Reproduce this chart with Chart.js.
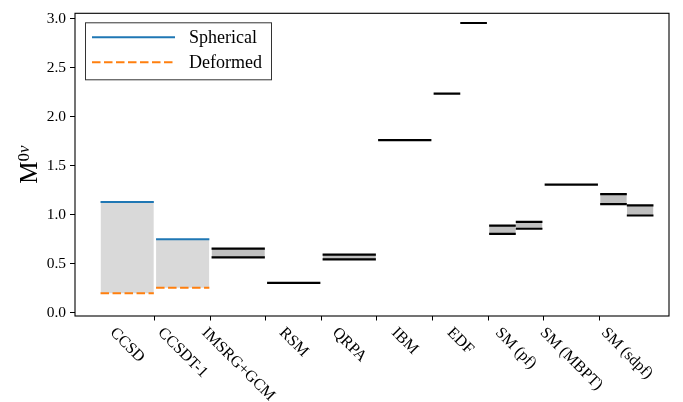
<!DOCTYPE html>
<html>
<head>
<meta charset="utf-8">
<script src="https://cdn.jsdelivr.net/npm/chart.js@4.4.1/dist/chart.umd.min.js"></script>
<style>
  html, body { margin: 0; padding: 0; background: #fff; }
  #wrap { width: 683px; height: 402px; }
</style>
</head>
<body>
<div id="wrap"><canvas id="c" width="683" height="402"></canvas></div>
<script>
// Nuclear matrix elements M^{0ν} by many-body method
const methods = ['CCSD', 'CCSDT-1', 'IMSRG+GCM', 'RSM', 'QRPA', 'IBM', 'EDF', 'SM (pf)', 'SM (MBPT)', 'SM (sdpf)'];
const yTicks = [0.0, 0.5, 1.0, 1.5, 2.0, 2.5, 3.0];

// coupled-cluster results: spherical vs deformed reference state
const ccMethod = [0, 1];
const ccSpherical = [1.13, 0.75];
const ccDeformed = [0.20, 0.255];

// other approaches: method index, slot (0 whole, 1 left half, 2 right half), range
const otherMethod = [2, 3, 4, 5, 6, 6, 7, 7, 8, 9, 9];
const otherSlot   = [0, 0, 0, 0, 1, 2, 1, 2, 0, 1, 2];
const otherLow    = [0.565, 0.305, 0.545, 1.76, 2.235, 2.955, 0.804, 0.857, 1.307, 1.107, 0.992];
const otherHigh   = [0.655, 0.305, 0.592, 1.76, 2.235, 2.955, 0.889, 0.927, 1.307, 1.21, 1.095];

const BLUE = '#1f77b4';
const ORANGE = '#ff7f0e';
const SERIF = '"Liberation Serif", "DejaVu Serif", serif';
const INSET = 0.02;

function span(m, slot) {
  if (slot === 1) return [m + INSET, m + 0.5];
  if (slot === 2) return [m + 0.5, m + 1 - INSET];
  return [m + INSET, m + 1 - INSET];
}
function segment(m, slot, v) {
  const [a, b] = span(m, slot);
  return [{ x: a, y: v }, { x: b, y: v }];
}

const base = { type: 'line', pointRadius: 0, pointHoverRadius: 0, borderWidth: 2, fill: false, tension: 0 };
const datasets = [];

ccMethod.forEach((m, i) => {
  datasets.push(Object.assign({}, base, {
    label: 'Spherical', data: segment(m, 0, ccSpherical[i]), borderColor: BLUE
  }));
  datasets.push(Object.assign({}, base, {
    label: 'Deformed', data: segment(m, 0, ccDeformed[i]), borderColor: ORANGE,
    borderDash: [8.5, 3.5], fill: '-1', backgroundColor: '#d9d9d9'
  }));
});

otherMethod.forEach((m, i) => {
  const slot = otherSlot[i];
  datasets.push(Object.assign({}, base, {
    label: methods[m], data: segment(m, slot, otherHigh[i]), borderColor: '#000', borderWidth: 2.2
  }));
  if (otherLow[i] !== otherHigh[i]) {
    datasets.push(Object.assign({}, base, {
      label: methods[m], data: segment(m, slot, otherLow[i]), borderColor: '#000', borderWidth: 2.2,
      fill: '-1', backgroundColor: '#bfbfbf'
    }));
  }
});

// frame around the plotting area
const framePlugin = {
  id: 'frame',
  afterDraw(chart) {
    const { ctx, chartArea: a } = chart;
    ctx.save();
    ctx.strokeStyle = '#000';
    ctx.lineWidth = 1.1;
    ctx.strokeRect(a.left, a.top, a.right - a.left, a.bottom - a.top);
    ctx.restore();
  }
};

// rotated method names centred under each column
const methodLabels = {
  id: 'methodLabels',
  afterDraw(chart) {
    const { ctx, chartArea: a } = chart;
    const xs = chart.scales.x;
    ctx.save();
    ctx.font = '16px ' + SERIF;
    ctx.fillStyle = '#000';
    ctx.textAlign = 'center';
    ctx.textBaseline = 'middle';
    methods.forEach((name, i) => {
      const cx = xs.getPixelForValue(i + 0.5);
      const w = ctx.measureText(name).width;
      const h = 11;
      const half = (w + h) * Math.SQRT1_2 / 2;
      ctx.save();
      ctx.translate(cx, a.bottom + 10.5 + half);
      ctx.rotate(Math.PI / 4);
      ctx.fillText(name, 0, 0);
      ctx.restore();
    });
    ctx.restore();
  }
};

// y-axis title with superscript
const yTitle = {
  id: 'yTitle',
  afterDraw(chart) {
    const { ctx, chartArea: a } = chart;
    ctx.save();
    const big = '25px ' + SERIF;
    const small = 'italic 17px ' + SERIF;
    ctx.font = big;
    const wM = ctx.measureText('M').width;
    ctx.font = '17px ' + SERIF;
    const w0 = ctx.measureText('0').width;
    ctx.font = small;
    const wNu = ctx.measureText('ν').width;
    const total = wM + w0 + wNu;
    ctx.translate(37, (a.top + a.bottom) / 2);
    ctx.rotate(-Math.PI / 2);
    ctx.fillStyle = '#000';
    ctx.textBaseline = 'alphabetic';
    ctx.textAlign = 'left';
    let x = -total / 2;
    ctx.font = big;
    ctx.fillText('M', x, 0);
    x += wM;
    ctx.font = '17px ' + SERIF;
    ctx.fillText('0', x, -8);
    x += w0;
    ctx.font = small;
    ctx.fillText('ν', x, -8);
    ctx.restore();
  }
};

// legend box for the two reference states
const legendBox = {
  id: 'legendBox',
  afterDraw(chart) {
    const { ctx, chartArea: a } = chart;
    const items = [];
    ['Spherical', 'Deformed'].forEach(lbl => {
      const ds = chart.data.datasets.find(d => d.label === lbl);
      if (ds) items.push(ds);
    });
    const x0 = a.left + 10, y0 = a.top + 9;
    ctx.save();
    ctx.fillStyle = 'rgba(255,255,255,0.9)';
    ctx.fillRect(x0, y0, 186, 57);
    ctx.strokeStyle = '#333';
    ctx.lineWidth = 1;
    ctx.strokeRect(x0 + 0.5, y0 + 0.5, 186, 57);
    items.forEach((ds, i) => {
      const y = y0 + 15 + i * 25;
      ctx.beginPath();
      ctx.strokeStyle = ds.borderColor;
      ctx.lineWidth = 2;
      ctx.setLineDash(ds.borderDash || []);
      ctx.moveTo(x0 + 7, y);
      ctx.lineTo(x0 + 90, y);
      ctx.stroke();
      ctx.setLineDash([]);
      ctx.fillStyle = '#000';
      ctx.font = '18px ' + SERIF;
      ctx.textBaseline = 'middle';
      ctx.fillText(ds.label, x0 + 104, y + 1);
    });
    ctx.restore();
  }
};

new Chart(document.getElementById('c'), {
  type: 'line',
  data: { datasets },
  options: {
    responsive: false,
    animation: false,
    events: [],
    layout: { padding: { top: 7, right: 14, bottom: 0, left: 0 } },
    scales: {
      x: {
        type: 'linear', min: -0.44, max: 10.26,
        afterFit(s) { s.height = 86; },
        afterBuildTicks(s) { s.ticks = methods.slice(1).map((_, i) => ({ value: i + 1 })); },
        ticks: { display: false },
        grid: { drawOnChartArea: false, drawTicks: true, tickLength: 4.5, color: '#000', lineWidth: 1 },
        border: { display: false }
      },
      y: {
        type: 'linear', min: -0.033, max: 3.054,
        afterFit(s) { s.width = 75; },
        afterBuildTicks(s) { s.ticks = yTicks.map(v => ({ value: v })); },
        ticks: {
          color: '#000', padding: 4,
          font: { family: SERIF, size: 15.5 },
          callback: v => Number(v).toFixed(1)
        },
        grid: { drawOnChartArea: false, drawTicks: true, tickLength: 5, color: '#000', lineWidth: 1 },
        border: { display: false }
      }
    },
    plugins: {
      legend: { display: false },
      tooltip: { enabled: false },
      filler: { drawTime: 'beforeDatasetsDraw' }
    }
  },
  plugins: [framePlugin, methodLabels, yTitle, legendBox]
});
</script>
</body>
</html>
